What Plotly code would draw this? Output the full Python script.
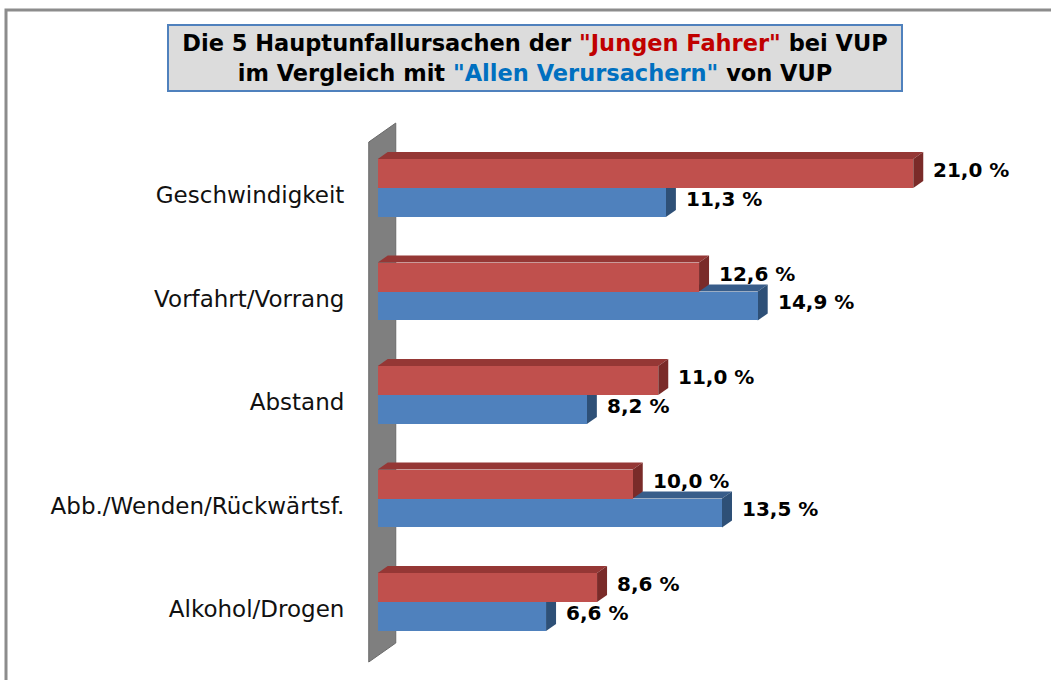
import plotly.graph_objects as go

# ---- data ----
categories = ["Geschwindigkeit", "Vorfahrt/Vorrang", "Abstand",
              "Abb./Wenden/Rückwärtsf.", "Alkohol/Drogen"]
junge_fahrer = [21.0, 12.6, 11.0, 10.0, 8.6]        # red series
alle_verursacher = [11.3, 14.9, 8.2, 13.5, 6.6]     # blue series

# ---- layout geometry ----
W, H = 1051, 680
M_L, M_R, M_T, M_B = 365, 23, 120, 10
X_RANGE = [-0.5, 25.5]
Y_RANGE = [4.657, -0.657]
plot_w = W - M_L - M_R
plot_h = H - M_T - M_B
px_x = plot_w / (X_RANGE[1] - X_RANGE[0])
px_y = plot_h / (Y_RANGE[0] - Y_RANGE[1])
DX = 10 / px_x          # 3D depth, horizontal
DY = 7 / px_y           # 3D depth, vertical
BAR_W = 0.28
pos = list(range(len(categories)))

RED, RED_TOP, RED_SIDE = "#C0504D", "#953735", "#7A2B29"
BLUE, BLUE_TOP, BLUE_SIDE = "#4F81BD", "#385D8A", "#2E5077"
FONT = "DejaVu Sans, Liberation Sans, Arial, sans-serif"

fig = go.Figure()

red_y = [p - BAR_W / 2 for p in pos]
blue_y = [p + BAR_W / 2 for p in pos]

fig.add_trace(go.Bar(orientation="h", x=alle_verursacher, y=blue_y, width=BAR_W,
                     marker=dict(color=BLUE, line=dict(width=0)),
                     name="Alle Verursacher", hoverinfo="x"))
fig.add_trace(go.Bar(orientation="h", x=junge_fahrer, y=red_y, width=BAR_W,
                     marker=dict(color=RED, line=dict(width=0)),
                     name="Junge Fahrer", hoverinfo="x"))

shapes = []
# back wall
wx0, wx1 = -9 / px_x, 18 / px_x
wy_top = -0.444
wy_bot = 4.58
shapes.append(dict(type="path", xref="x", yref="y", layer="below",
                   path=(f"M {wx0},{wy_top} L {wx1},{wy_top - 19/px_y} "
                         f"L {wx1},{wy_bot - 19/px_y} L {wx0},{wy_bot} Z"),
                   fillcolor="#7F7F7F", line=dict(color="#6A6A6A", width=1)))


def faces(v, yc, top_c, side_c):
    top = yc - BAR_W / 2
    bot = yc + BAR_W / 2
    return [
        dict(type="path", xref="x", yref="y", layer="below",
             path=f"M 0,{top} L {v},{top} L {v + DX},{top - DY} L {DX},{top - DY} Z",
             fillcolor=top_c, line=dict(width=0)),
        dict(type="path", xref="x", yref="y", layer="below",
             path=f"M {v},{top} L {v + DX},{top - DY} L {v + DX},{bot - DY} L {v},{bot} Z",
             fillcolor=side_c, line=dict(width=0)),
    ]


for v, yc in zip(alle_verursacher, blue_y):
    shapes += faces(v, yc, BLUE_TOP, BLUE_SIDE)
for v, yc in zip(junge_fahrer, red_y):
    shapes += faces(v, yc, RED_TOP, RED_SIDE)

# outer frame
shapes.append(dict(type="rect", xref="paper", yref="paper", layer="above",
                   x0=(6 - M_L) / plot_w, x1=1.2,
                   y0=-0.3, y1=(H - M_B - 10) / plot_h,
                   line=dict(color="#8C8C8C", width=3), fillcolor="rgba(0,0,0,0)"))

annotations = []
lab_font = dict(family=FONT, size=20, color="black")
for vals, ys in ((junge_fahrer, red_y), (alle_verursacher, blue_y)):
    for v, yc in zip(vals, ys):
        annotations.append(dict(
            x=v + DX, y=yc - DY / 2, xref="x", yref="y",
            text="<b>" + f"{v:.1f}".replace(".", ",") + " %</b>",
            showarrow=False, xanchor="left", yanchor="middle", xshift=8,
            font=lab_font))

# title box
annotations.append(dict(
    xref="paper", yref="paper",
    x=(535 - M_L) / plot_w, y=(H - M_B - 58) / plot_h,
    xanchor="center", yanchor="middle", showarrow=False,
    width=732, height=64, borderpad=0, borderwidth=2,
    bordercolor="#4F81BD", bgcolor="#DCDCDC",
    align="center",
    text=("<b>Die 5 Hauptunfallursachen der "
          "<span style='color:#C00000'>\"Jungen Fahrer\"</span> bei VUP<br>"
          "im Vergleich mit "
          "<span style='color:#0070C0'>\"Allen Verursachern\"</span> von VUP</b>"),
    font=dict(family=FONT, size=22.5, color="black")))

fig.update_layout(
    width=W, height=H,
    margin=dict(l=M_L, r=M_R, t=M_T, b=M_B, pad=0),
    paper_bgcolor="white", plot_bgcolor="white",
    barmode="overlay", bargap=0,
    showlegend=False,
    shapes=shapes, annotations=annotations,
    xaxis=dict(range=X_RANGE, visible=False, showgrid=False, zeroline=False, fixedrange=True),
    yaxis=dict(range=Y_RANGE, tickvals=[p + 0.07 for p in pos], ticktext=categories,
               showgrid=False, zeroline=False, showline=False,
               ticks="outside", ticklen=15, tickcolor="rgba(0,0,0,0)",
               tickfont=dict(family=FONT, size=23, color="#111111"),
               fixedrange=True),
)

fig.write_html("out.html", config={"displayModeBar": False},
               post_script="document.body.style.margin='0';document.body.style.padding='0';")
